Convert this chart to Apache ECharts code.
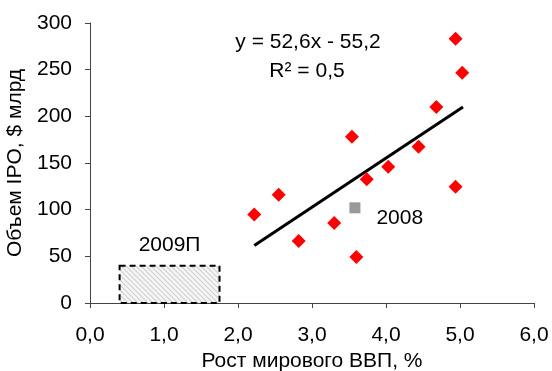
<!DOCTYPE html>
<html><head><meta charset="utf-8">
<script src="https://cdn.jsdelivr.net/npm/echarts@6/dist/echarts.min.js"></script>
<style>html,body{margin:0;padding:0;background:#fff}#c{width:552px;height:371px}</style>
</head><body><div id="c"></div>
<script>
// Data
var gdpGrowth = [2.22, 2.55, 2.82, 3.30, 3.54, 3.60, 3.74, 4.03, 4.44, 4.68, 4.94, 4.94, 5.03];
var ipoVolume = [94.8, 115.9, 66.5, 85.8, 178, 49.4, 132.7, 146, 167.4, 210, 283, 124.5, 246.8];
var point2008 = [3.58, 102];
var trendX = [2.22, 5.04];
var trendY = [61.6, 209.9];
var forecastX = [0.4, 1.75];
var forecastY = [0, 40];
var xTicks = [0, 1, 2, 3, 4, 5, 6];
var yTicks = [0, 50, 100, 150, 200, 250, 300];

var FONT = '"Liberation Sans", Arial, sans-serif';
var FS = 21;
var pts = gdpGrowth.map(function (x, i) { return [x, ipoVolume[i]]; });
var trend = trendX.map(function (x, i) { return [x, trendY[i]]; });

// hatch pattern
var pc = document.createElement('canvas');
pc.width = 5; pc.height = 5;
var g = pc.getContext('2d');
g.fillStyle = '#f6f6f6'; g.fillRect(0, 0, 5, 5);
g.strokeStyle = '#cfcfcf'; g.lineWidth = 1.1;
g.beginPath(); g.moveTo(0, 0); g.lineTo(5, 5); g.moveTo(-2.5, 2.5); g.lineTo(2.5, 7.5); g.moveTo(2.5, -2.5); g.lineTo(7.5, 2.5); g.stroke();

var chart = echarts.init(document.getElementById('c'), null, {renderer: 'canvas'});
chart.setOption({
  animation: false,
  grid: {left: 90, right: 18, top: 23, bottom: 68, containLabel: false, outerBoundsMode: 'none'},
  xAxis: {
    type: 'value', min: xTicks[0], max: xTicks[xTicks.length - 1], interval: 1,
    name: 'Рост мирового ВВП, %', nameLocation: 'middle', nameGap: 48,
    nameTextStyle: {fontFamily: FONT, fontSize: FS, color: '#000'},
    axisLine: {lineStyle: {color: '#444', width: 1}},
    axisTick: {show: true, length: 5, lineStyle: {color: '#444'}},
    axisLabel: {fontFamily: FONT, fontSize: FS, color: '#000', margin: 22,
      formatter: function (v) { return v.toFixed(1).replace('.', ','); }},
    splitLine: {show: false}
  },
  yAxis: {
    type: 'value', min: yTicks[0], max: yTicks[yTicks.length - 1], interval: 50,
    name: 'Объем IPO, $ млрд', nameLocation: 'middle', nameGap: 53,
    nameTextStyle: {fontFamily: FONT, fontSize: FS, color: '#000'},
    axisLine: {show: true, lineStyle: {color: '#444', width: 1}},
    axisTick: {show: true, length: 5, lineStyle: {color: '#444'}},
    axisLabel: {fontFamily: FONT, fontSize: FS, color: '#000', margin: 18},
    splitLine: {show: false}
  },
  series: [
    {
      type: 'custom',
      renderItem: function (params, api) {
        var p0 = api.coord([forecastX[0], forecastY[1]]);
        var p1 = api.coord([forecastX[1], forecastY[0]]);
        return {
          type: 'rect',
          shape: {x: p0[0], y: p0[1], width: p1[0] - p0[0], height: p1[1] - p0[1]},
          style: {fill: {image: pc, repeat: 'repeat'}, stroke: '#000', lineWidth: 2, lineDash: [6, 4]}
        };
      },
      data: [[forecastX[0], forecastY[1]]],
      z: 2
    },
    {
      type: 'line', data: trend, symbol: 'none',
      lineStyle: {color: '#000', width: 3}, z: 3
    },
    {
      type: 'scatter', data: pts, symbol: 'diamond', symbolSize: 14,
      itemStyle: {color: '#ff0000', opacity: 1}, z: 4
    },
    {
      type: 'scatter', data: [point2008], symbol: 'rect', symbolSize: 11,
      itemStyle: {color: '#999999', opacity: 1}, z: 4,
      label: {show: true, position: 'right', distance: 16, offset: [0, 10],
        formatter: '2008', fontFamily: FONT, fontSize: FS, color: '#000', opacity: 1}
    },
    {
      type: 'scatter', data: [[(forecastX[0] + forecastX[1]) / 2, forecastY[1]]], symbolSize: 0,
      itemStyle: {opacity: 1},
      label: {show: true, position: 'top', distance: 10,
        formatter: '2009П', fontFamily: FONT, fontSize: FS, color: '#000', opacity: 1}, z: 4
    }
  ],
  graphic: [
    {type: 'text', x: 308, y: 42, style: {text: 'y = 52,6x - 55,2', font: FS + 'px ' + FONT, fill: '#000', align: 'center', verticalAlign: 'middle'}},
    {type: 'text', x: 307, y: 71, style: {text: 'R² = 0,5', font: FS + 'px ' + FONT, fill: '#000', align: 'center', verticalAlign: 'middle'}}
  ]
});
</script></body></html>
